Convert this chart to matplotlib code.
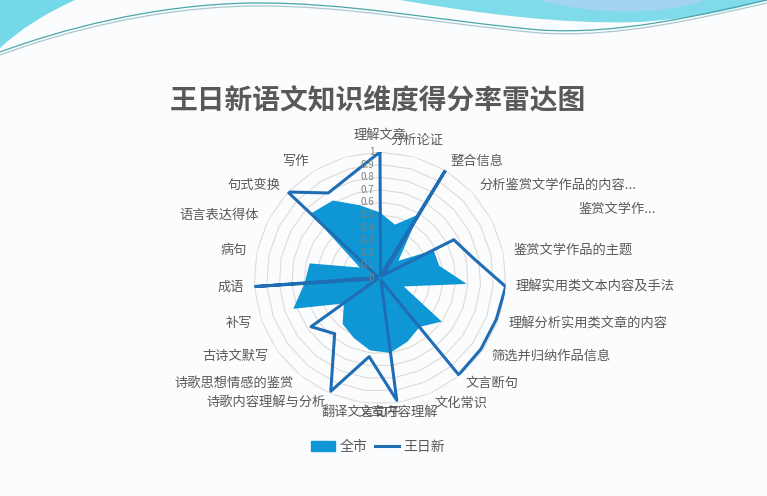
import numpy as np
import matplotlib
matplotlib.use('Agg')
import matplotlib.pyplot as plt
from matplotlib.patches import Patch, PathPatch
from matplotlib.lines import Line2D
from matplotlib.path import Path

plt.rcParams['font.family'] = ['Noto Sans CJK SC', 'DejaVu Sans']

# 维度名称（第23项在原图中没有显示名称）
categories = ['理解文章', '分析论证', '整合信息', '分析鉴赏文学作品的内容...', '鉴赏文学作...',
              '鉴赏文学作品的主题', '理解实用类文本内容及手法', '理解分析实用类文章的内容',
              '筛选并归纳作品信息', '文言断句', '文化常识', '文章内容理解', '翻译文言句子',
              '诗歌内容理解与分析', '诗歌思想情感的鉴赏', '古诗文默写', '补写', '成语', '病句',
              '语言表达得体', '句式变换', '写作', '']

# 得分率
city = [0.52, 0.44, 0.59, 0.20, 0.48, 0.48, 0.69, 0.20, 0.60, 0.50, 0.55, 0.60,
        0.58, 0.52, 0.47, 0.35, 0.73, 0.60, 0.57, 0.18, 0.75, 0.72, 0.60]
school = [1.00, 0.02, 1.00, 0.03, 0.66, 0.76, 1.00, 0.98, 0.98, 0.99, 0.02, 0.98,
          0.63, 0.98, 0.57, 0.67, 0.02, 1.00, 0.02, 0.02, 1.00, 0.79, 0.85]
series_names = ['全市', '王日新']
radial_ticks = [0, 0.1, 0.2, 0.3, 0.4, 0.5, 0.6, 0.7, 0.8, 0.9, 1]

fill_color = '#0f96d4'
line_color = '#1f6db4'
text_color = '#595959'

fig = plt.figure(figsize=(7.67, 4.96), dpi=100)
fig.patch.set_facecolor('#fbfcfd')

# 顶部装饰波浪
bg = fig.add_axes([0, 0, 1, 1], zorder=0)
bg.set_xlim(0, 767)
bg.set_ylim(496, 0)
bg.axis('off')
C3, C4, L, M, Z = Path.CURVE3, Path.CURVE4, Path.LINETO, Path.MOVETO, Path.CLOSEPOLY
bg.add_patch(PathPatch(Path([(0, 0), (75, 0), (30, 20), (0, 48), (0, 0)], [M, L, C3, C3, Z]),
                       fc='#74d8e8', ec='none'))
bg.add_patch(PathPatch(Path([(400, 0), (470, 12), (560, 25), (640, 22), (700, 18), (740, 8), (767, 0), (400, 0)],
                            [M, C4, C4, C4, C4, C4, C4, Z]), fc='#7fdbea', ec='none'))
bg.add_patch(PathPatch(Path([(540, 0), (570, 10), (620, 14), (660, 10), (690, 6), (700, 2), (705, 0), (540, 0)],
                            [M, C4, C4, C4, C4, C4, C4, Z]), fc='#a3d4ef', ec='none'))
for off, col in [(0, '#4aa6a8'), (3, '#a9c9cf')]:
    bg.add_patch(PathPatch(Path([(0, 52 + off), (60, 30 + off), (150, 5 + off), (250, 3 + off),
                                 (350, 2 + off), (430, 20 + off), (540, 30 + off),
                                 (620, 35 + off), (700, 15 + off), (767, 0 + off)],
                                [M, C4, C4, C4, C4, C4, C4, C4, C4, C4]),
                           fc='none', ec=col, lw=0.9))

# 雷达图
ax = fig.add_axes([0.3311, 0.1855, 0.3286, 0.508], projection='polar', zorder=2)
ax.set_theta_zero_location('N')
ax.set_theta_direction(-1)
ax.patch.set_alpha(0)
ax.grid(False)
ax.spines['polar'].set_visible(False)
ax.set_xticks([])
ax.set_yticks([])
ax.set_ylim(0, 1)

n = len(categories)
theta = np.arange(n) * 2 * np.pi / n
theta_c = np.append(theta, theta[0])

for lvl in radial_ticks[1:]:
    ax.plot(theta_c, [lvl] * (n + 1), color='#dedbd7', lw=0.8, zorder=1)

ax.fill(theta_c, city + city[:1], color=fill_color, lw=0, zorder=2)
ax.plot(theta_c, school + school[:1], color=line_color, lw=2.2, zorder=3)

for v in radial_ticks:
    ax.annotate(f'{v:g}', xy=(0, v), xytext=(-4, 0), textcoords='offset points',
                ha='right', va='center', fontsize=7, color='#7f7f7f', zorder=4)

nudge = {4: (56, 4)}
for i, (t, lab) in enumerate(zip(theta, categories)):
    s, c = np.sin(t), np.cos(t)
    if s > 0.35:
        ha = 'left'
    elif s < -0.35:
        ha = 'right'
    else:
        ha = 'center'
    va = 'bottom' if c > 0.9 else 'center'
    ax.annotate(lab, xy=(t, 1.08), xytext=nudge.get(i, (0, 0)), textcoords='offset points',
                ha=ha, va=va, fontsize=9.5, color=text_color, annotation_clip=False)

fig.text(0.493, 0.798, '王日新语文知识维度得分率雷达图', ha='center', va='center',
         fontsize=20, fontweight='bold', color=text_color)

handles = [Patch(color=fill_color), Line2D([], [], color=line_color, lw=2.2)]
fig.legend(handles, series_names, loc='center', bbox_to_anchor=(0.493, 0.099), ncol=2,
           frameon=False, fontsize=10, handlelength=1.7, columnspacing=0.6,
           handletextpad=0.3, labelcolor=text_color)

fig.savefig('out.png', dpi=100, facecolor=fig.get_facecolor())
